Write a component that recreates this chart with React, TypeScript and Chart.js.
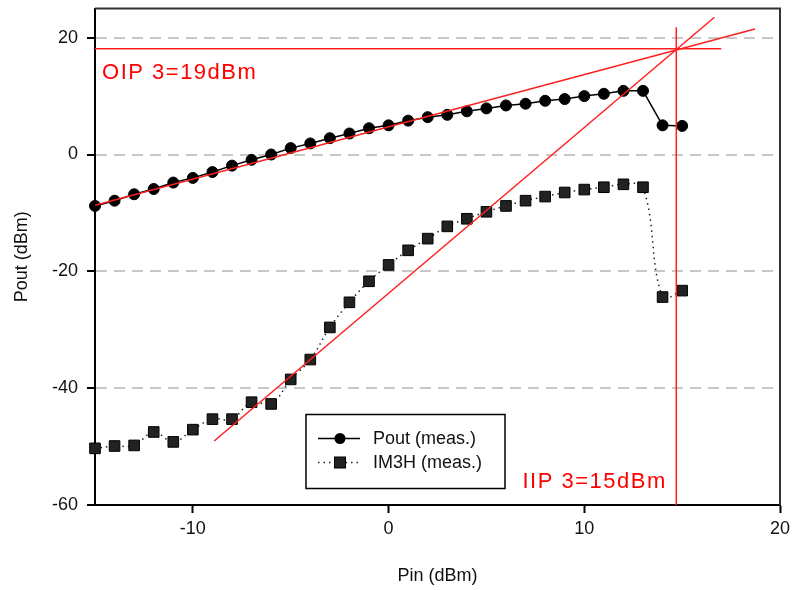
import React, { useEffect, useRef } from "react";
import { Chart, registerables } from "chart.js";

Chart.register(...registerables);

const FONT = "'Liberation Sans', Arial, sans-serif";

const pin = [-15, -14, -13, -12, -11, -10, -9, -8, -7, -6, -5, -4, -3, -2, -1, 0, 1, 2, 3, 4, 5, 6, 7, 8, 9, 10, 11, 12, 13, 14, 15];
const pout = [-8.8, -7.9, -6.8, -5.9, -4.8, -4.0, -3.0, -1.9, -0.9, 0.0, 1.1, 1.9, 2.8, 3.6, 4.5, 5.0, 5.8, 6.4, 6.8, 7.4, 7.9, 8.4, 8.7, 9.2, 9.5, 10.0, 10.4, 10.9, 10.9, 5.0, 4.9];
const im3h = [-50.3, -49.9, -49.8, -47.5, -49.2, -47.1, -45.3, -45.3, -42.4, -42.7, -38.5, -35.1, -29.6, -25.3, -21.7, -18.9, -16.4, -14.4, -12.3, -11.0, -9.8, -8.8, -7.9, -7.2, -6.5, -6.0, -5.6, -5.1, -5.6, -24.4, -23.3];

const xTicks = [-10, 0, 10, 20];
const yTicks = [-60, -40, -20, 0, 20];

const oipLineX = [-15, 17];
const oipLineY = [18.1, 18.1];
const iipLineX = [14.7, 14.7];
const iipLineY = [-60, 21.8];
const fundFitX = [-15, 18.72];
const fundFitY = [-8.7, 21.5];
const im3FitX = [-8.91, 16.65];
const im3FitY = [-49.05, 23.5];

const oipLabel = "OIP 3=19dBm";
const oipLabelPos = [-14.64, 13.0];
const iipLabel = "IIP 3=15dBm";
const iipLabelPos = [6.84, -57.1];

const legendLabels = ["Pout (meas.)", "IM3H (meas.)"];

const pts = (xs: number[], ys: number[]) => xs.map((x, i) => ({ x, y: ys[i] }));

const RED = "#ff1f1f";

const overlayPlugin = {
  id: "overlay",
  beforeDatasetsDraw(chart: any) {
    const { ctx, chartArea: a } = chart;
    ctx.save();
    ctx.strokeStyle = "#333";
    ctx.lineWidth = 2;
    ctx.beginPath();
    ctx.moveTo(a.left, a.top);
    ctx.lineTo(a.right, a.top);
    ctx.lineTo(a.right, a.bottom);
    ctx.stroke();
    ctx.restore();
  },
  afterDatasetsDraw(chart: any) {
    const { ctx, chartArea: a, scales } = chart;
    const xs = scales.x;
    const ys = scales.y;
    ctx.save();
    ctx.fillStyle = "#ff0000";
    ctx.font = `22px ${FONT}`;
    try { (ctx as any).letterSpacing = "1.5px"; } catch (e) {}
    ctx.textAlign = "left";
    ctx.textBaseline = "alphabetic";
    ctx.fillText(oipLabel, xs.getPixelForValue(oipLabelPos[0]), ys.getPixelForValue(oipLabelPos[1]));
    ctx.fillText(iipLabel, xs.getPixelForValue(iipLabelPos[0]), ys.getPixelForValue(iipLabelPos[1]));
    try { (ctx as any).letterSpacing = "0px"; } catch (e) {}

    // legend box
    const lx = a.left + 211;
    const ly = a.top + 406;
    const lw = 199;
    const lh = 74;
    ctx.fillStyle = "#fff";
    ctx.fillRect(lx, ly, lw, lh);
    ctx.strokeStyle = "#000";
    ctx.lineWidth = 1.5;
    ctx.strokeRect(lx, ly, lw, lh);

    const r1 = ly + 24;
    const r2 = ly + 48;
    const sx0 = lx + 12;
    const sx1 = lx + 54;
    const mx = lx + 34;
    // row 1
    ctx.strokeStyle = "#000";
    ctx.lineWidth = 1.5;
    ctx.setLineDash([]);
    ctx.beginPath();
    ctx.moveTo(sx0, r1);
    ctx.lineTo(sx1, r1);
    ctx.stroke();
    ctx.fillStyle = "#000";
    ctx.beginPath();
    ctx.arc(mx, r1, 5.5, 0, Math.PI * 2);
    ctx.fill();
    // row 2
    ctx.strokeStyle = "#222";
    ctx.setLineDash([1.5, 4]);
    ctx.beginPath();
    ctx.moveTo(sx0, r2);
    ctx.lineTo(sx1, r2);
    ctx.stroke();
    ctx.setLineDash([]);
    ctx.fillStyle = "#222";
    ctx.fillRect(mx - 5.5, r2 - 5.5, 11, 11);
    ctx.strokeStyle = "#000";
    ctx.lineWidth = 1;
    ctx.strokeRect(mx - 5.5, r2 - 5.5, 11, 11);

    ctx.fillStyle = "#111";
    ctx.font = `18px ${FONT}`;
    ctx.textBaseline = "middle";
    ctx.fillText(legendLabels[0], lx + 67, r1 + 1);
    ctx.fillText(legendLabels[1], lx + 67, r2 + 1);
    ctx.restore();
  },
};

export default function App() {
  const ref = useRef<HTMLCanvasElement | null>(null);

  useEffect(() => {
    document.body.style.margin = "0";
    const canvas = ref.current;
    if (!canvas) return;
    const redLine = (data: any[]) => ({
      data,
      showLine: true,
      borderColor: RED,
      borderWidth: 1.5,
      pointRadius: 0,
      pointHoverRadius: 0,
      fill: false,
    });
    const chart = new Chart(canvas, {
      type: "scatter",
      data: {
        datasets: [
          redLine(pts(oipLineX, oipLineY)),
          redLine(pts(iipLineX, iipLineY)),
          redLine(pts(fundFitX, fundFitY)),
          redLine(pts(im3FitX, im3FitY)),
          {
            label: legendLabels[0],
            data: pts(pin, pout),
            showLine: true,
            borderColor: "#000",
            borderWidth: 1.5,
            pointStyle: "circle",
            pointRadius: 5.5,
            pointBackgroundColor: "#000",
            pointBorderColor: "#000",
            pointBorderWidth: 1,
            clip: false,
          },
          {
            label: legendLabels[1],
            data: pts(pin, im3h),
            showLine: true,
            borderColor: "#222",
            borderWidth: 1.5,
            borderDash: [1.5, 4],
            tension: 0.4,
            pointStyle: "rect",
            pointRadius: 7.5,
            pointBackgroundColor: "#222",
            pointBorderColor: "#000",
            pointBorderWidth: 1,
            clip: false,
          },
        ] as any,
      },
      options: {
        animation: false,
        responsive: false,
        devicePixelRatio: 1,
        events: [],
        layout: { padding: { left: 0, right: 13, top: 6, bottom: 0 } },
        plugins: {
          legend: { display: false },
          tooltip: { enabled: false },
        },
        scales: {
          x: {
            type: "linear",
            min: -15,
            max: 20,
            afterBuildTicks: (s: any) => {
              s.ticks = xTicks.map((v) => ({ value: v }));
            },
            afterFit: (s: any) => {
              s.height = 85;
              s.paddingLeft = 0;
              s.paddingRight = 0;
            },
            grid: {
              drawOnChartArea: false,
              drawTicks: true,
              tickLength: 8,
              tickWidth: 2,
              tickColor: "#000",
              color: "#000",
            },
            border: { display: true, color: "#000", width: 2 },
            ticks: {
              color: "#111",
              font: { family: FONT, size: 18 },
              padding: 5,
              maxRotation: 0,
              callback: (v: any) => String(v),
            },
            title: {
              display: true,
              text: "Pin (dBm)",
              color: "#111",
              font: { family: FONT, size: 18 },
              padding: { top: 0, bottom: 3 },
            },
          },
          y: {
            type: "linear",
            min: -60,
            max: 25,
            afterBuildTicks: (s: any) => {
              s.ticks = yTicks.map((v) => ({ value: v }));
            },
            afterFit: (s: any) => {
              s.width = 95;
              s.paddingTop = 0;
              s.paddingBottom = 0;
            },
            grid: {
              color: (c: any) => (c.tick && c.tick.value === -60 ? "rgba(0,0,0,0)" : "#c8c8c8"),
              lineWidth: 2,
              drawTicks: true,
              tickLength: 8,
              tickWidth: 2,
              tickColor: "#000",
              tickBorderDash: [],
            },
            border: { display: true, color: "#000", width: 2, dash: [11, 7] },
            ticks: {
              color: "#111",
              font: { family: FONT, size: 18 },
              padding: 9,
              callback: (v: any) => String(v),
            },
            title: {
              display: true,
              text: "Pout (dBm)",
              color: "#111",
              font: { family: FONT, size: 18 },
              padding: { top: 11, bottom: 0 },
            },
          },
        },
      } as any,
      plugins: [overlayPlugin],
    });
    return () => {
      chart.destroy();
    };
  }, []);

  return (
    <div style={{ width: 793, height: 590 }}>
      <canvas ref={ref} width={793} height={590} style={{ display: "block" }} />
    </div>
  );
}
